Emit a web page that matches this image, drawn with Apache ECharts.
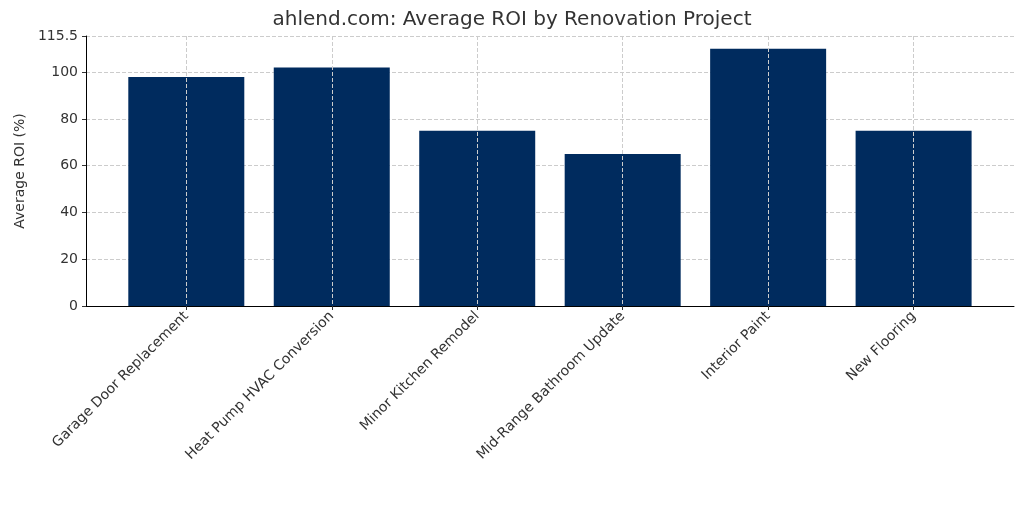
<!DOCTYPE html><html><head><meta charset="utf-8">
<script src="https://cdn.jsdelivr.net/npm/echarts@6/dist/echarts.min.js"></script>
<style>html,body{margin:0;padding:0;background:#fff}#c{width:1024px;height:513px}</style></head><body><div id="c"></div>
<script>
const categories=["Garage Door Replacement","Heat Pump HVAC Conversion","Minor Kitchen Remodel","Mid-Range Bathroom Update","Interior Paint","New Flooring"];
const roi=[98,102,75,65,110,75];
const yTicks={min:0,max:115.5,interval:20};
const font='"DejaVu Sans", sans-serif';
const grid=[{left:86,right:10,top:36,bottom:207},{left:186.3,right:110.4,top:36,bottom:207}];
const ch=echarts.init(document.getElementById('c'));
ch.setOption({
 animation:false,
 title:{text:'ahlend.com: Average ROI by Renovation Project',left:'center',top:5,textStyle:{fontFamily:font,fontSize:20,fontWeight:'normal',color:'#333'}},
 grid:grid,
 xAxis:[
  {gridIndex:0,type:'value',min:0,max:1,axisLine:{show:true,lineStyle:{color:'#000'}},axisTick:{show:false},axisLabel:{show:false},splitLine:{show:false}},
  {gridIndex:1,type:'category',data:categories,boundaryGap:false,axisLine:{show:false},
   axisTick:{show:true,length:4,lineStyle:{color:'#333'}},
   axisLabel:{rotate:45,fontFamily:font,fontSize:14,color:'#333',margin:8,interval:0},
   splitLine:{show:true,lineStyle:{type:'dashed',color:'#ccc'}},z:1}
 ],
 yAxis:[
  {gridIndex:0,type:'value',...yTicks,showMaxLabel:false,name:'Average ROI (%)',nameLocation:'middle',nameGap:42,
   nameTextStyle:{fontFamily:font,fontSize:14,color:'#333'},
   axisLine:{show:true,lineStyle:{color:'#000'}},axisTick:{show:true,length:4,lineStyle:{color:'#333'}},
   axisLabel:{fontFamily:font,fontSize:14,color:'#333'},splitLine:{show:true,lineStyle:{type:'dashed',color:'#ccc'}}},
  {gridIndex:1,type:'value',...yTicks,show:false,splitLine:{show:false}}
 ],
 series:[{type:'bar',xAxisIndex:1,yAxisIndex:1,data:roi,barWidth:116,itemStyle:{color:'#002b5e'},z:0}]
});
</script></body></html>
